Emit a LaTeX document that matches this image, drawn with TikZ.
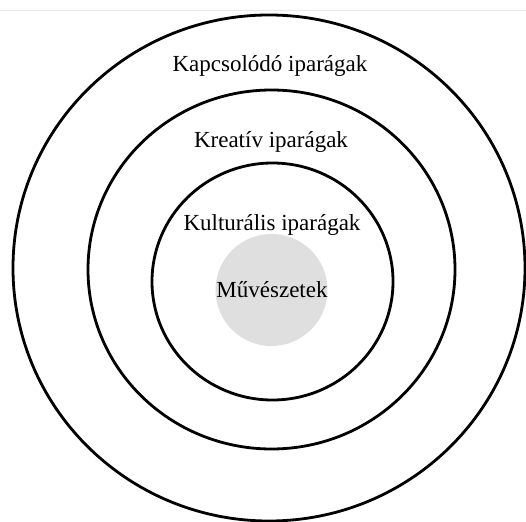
\documentclass[tikz,border=0pt]{standalone}
\usepackage{fontspec}
\setmainfont{Liberation Serif}
\definecolor{artgray}{RGB}{223,223,223}
\definecolor{edgegray}{RGB}{232,232,232}
\begin{document}
\begin{tikzpicture}[x=1pt,y=-1pt,
  ring/.style={draw=black,line width=2.8pt},
  lbl/.style={font=\fontsize{23}{26}\selectfont,text=black,inner sep=0pt,anchor=center}]
\useasboundingbox (0,0) rectangle (526,521);
\fill[white] (0,0) rectangle (526,521);
\draw[edgegray,line width=0.8pt] (0,10) -- (526,10);
\fill[artgray] (271.5,290) circle (56);
\draw[ring] (269,268) ellipse [x radius=256, y radius=253];
\draw[ring] (271.5,269.5) ellipse [x radius=183.5, y radius=179.5];
\draw[ring] (272.5,281.5) ellipse [x radius=120.5, y radius=118.5];
\node[lbl] (kapcs) at (270,66) {Kapcsolódó iparágak};
\node[lbl] (kreat) at (271,142) {Kreatív iparágak};
\node[lbl] (kult) at (272,225) {Kulturális iparágak};
\node[lbl] (muv) at (272,290) {Művészetek};
\end{tikzpicture}
\end{document}
